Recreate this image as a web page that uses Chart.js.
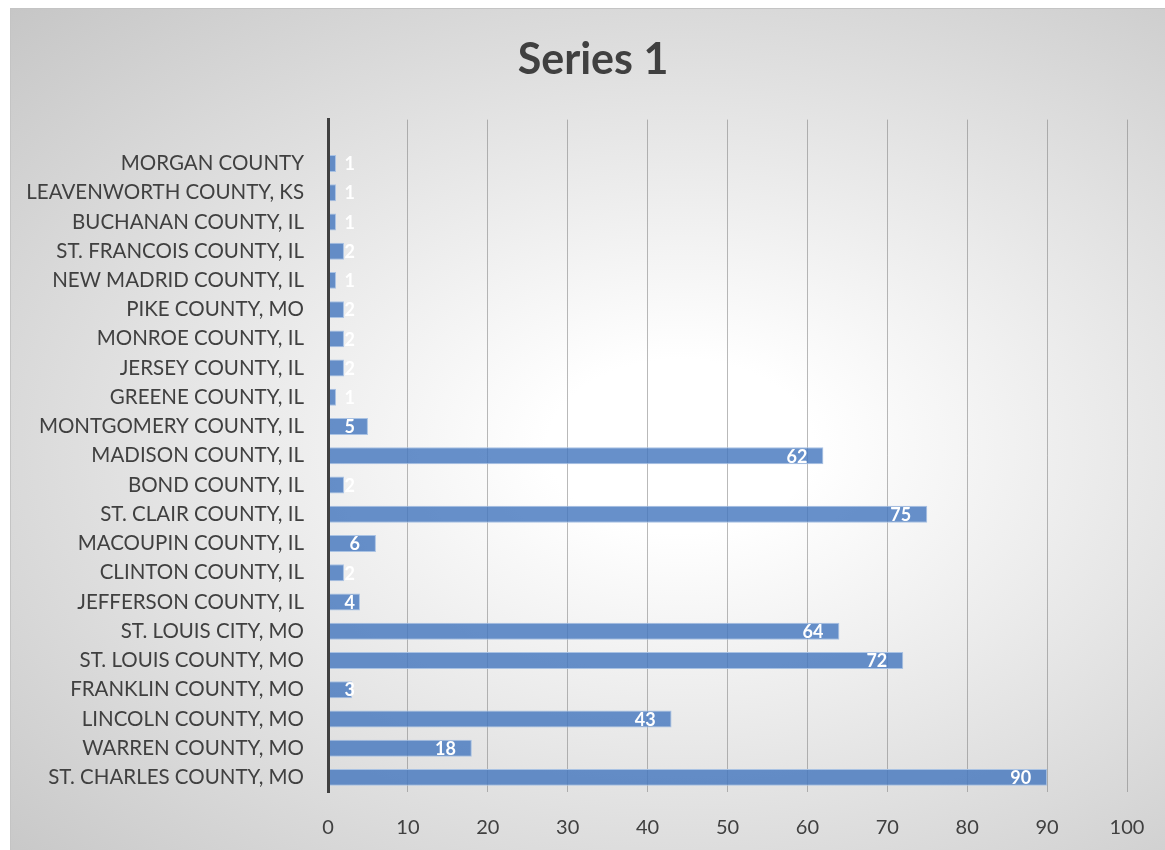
<!DOCTYPE html>
<html>
<head>
<meta charset="utf-8">
<script src="https://cdn.jsdelivr.net/npm/chart.js@4/dist/chart.umd.min.js"></script>
<style>
  body { margin: 0; background: #fff; }
  #box {
    position: absolute; left: 10px; top: 8px; width: 1155px; height: 842px;
    border-top: 1px solid #c4c4c4; border-left: 1px solid #c4c4c4;
    box-sizing: border-box;
    background: radial-gradient(ellipse farthest-corner at 58% 52%, #ffffff 0%, #ffffff 14%, #c6c6c6 100%);
  }
</style>
</head>
<body>
<div id="box"><canvas id="myChart" width="1154" height="841"></canvas></div>
<script>
// counties, top to bottom as shown
const counties = [
  'MORGAN COUNTY', 'LEAVENWORTH COUNTY, KS', 'BUCHANAN COUNTY, IL', 'ST. FRANCOIS COUNTY, IL',
  'NEW MADRID COUNTY, IL', 'PIKE COUNTY, MO', 'MONROE COUNTY, IL', 'JERSEY COUNTY, IL',
  'GREENE COUNTY, IL', 'MONTGOMERY COUNTY, IL', 'MADISON COUNTY, IL', 'BOND COUNTY, IL',
  'ST. CLAIR COUNTY, IL', 'MACOUPIN COUNTY, IL', 'CLINTON COUNTY, IL', 'JEFFERSON COUNTY, IL',
  'ST. LOUIS CITY, MO', 'ST. LOUIS COUNTY, MO', 'FRANKLIN COUNTY, MO', 'LINCOLN COUNTY, MO',
  'WARREN COUNTY, MO', 'ST. CHARLES COUNTY, MO'
];
const series1 = [1, 1, 1, 2, 1, 2, 2, 2, 1, 5, 62, 2, 75, 6, 2, 4, 64, 72, 3, 43, 18, 90];
const xTicks = [0, 10, 20, 30, 40, 50, 60, 70, 80, 90, 100];

// the original plot leaves one empty row above the first county
const labels = [''].concat(counties);
const values = [null].concat(series1);

// white value labels at the inside end of each bar
const barLabels = {
  id: 'barLabels',
  afterLayout(chart) {
    // title sits a bit right of the canvas centre in the original
    if (chart.titleBlock) chart.titleBlock.left += 48;
  },
  afterDatasetsDraw(chart) {
    const ctx = chart.ctx;
    const meta = chart.getDatasetMeta(0);
    ctx.save();
    ctx.font = 'bold 18px Lato';
    ctx.fillStyle = '#ffffff';
    ctx.textBaseline = 'middle';
    ctx.textAlign = 'left';
    meta.data.forEach((bar, i) => {
      if (values[i] == null) return;
      const txt = String(values[i]);
      const w = ctx.measureText(txt).width;
      const x = Math.max(bar.x - 16 - w, bar.base + 16);
      ctx.fillText(txt, x, bar.y + 1);
    });
    ctx.restore();
  }
};

const ctx = document.getElementById('myChart').getContext('2d');
new Chart(ctx, {
  type: 'bar',
  data: {
    labels: labels,
    datasets: [{
      label: 'Series 1',
      data: values,
      backgroundColor: 'rgba(70,120,190,0.82)',
      borderColor: '#a9c2e3',
      borderWidth: 1,
      barPercentage: 0.58,
      categoryPercentage: 1
    }]
  },
  options: {
    indexAxis: 'y',
    responsive: false,
    animation: false,
    layout: { padding: { left: 0, right: 38, top: 0, bottom: 0 } },
    plugins: {
      legend: { display: false },
      tooltip: { enabled: false },
      title: {
        display: true,
        text: 'Series 1',
        color: '#404040',
        font: { family: 'Lato', size: 43, weight: 'bold' },
        padding: { top: 25, bottom: 34 }
      }
    },
    scales: {
      x: {
        min: 0, max: 100,
        afterBuildTicks: s => { s.ticks = xTicks.map(v => ({ value: v })); },
        afterFit: s => { s.height = 58; s.paddingLeft = 0; s.paddingRight = 17; },
        grid: { color: 'rgba(128,128,128,0.55)', lineWidth: 1, drawTicks: false },
        border: { display: false },
        ticks: { color: '#404040', font: { family: 'Lato', size: 20 }, padding: 24 }
      },
      y: {
        afterFit: s => { s.width = 317; },
        grid: { display: false, drawTicks: false },
        border: { display: true, color: '#404040', width: 3, z: 1 },
        ticks: { color: '#404040', font: { family: 'Lato', size: 20.5 }, padding: 24, autoSkip: false }
      }
    }
  },
  plugins: [barLabels]
});
</script>
</body>
</html>
